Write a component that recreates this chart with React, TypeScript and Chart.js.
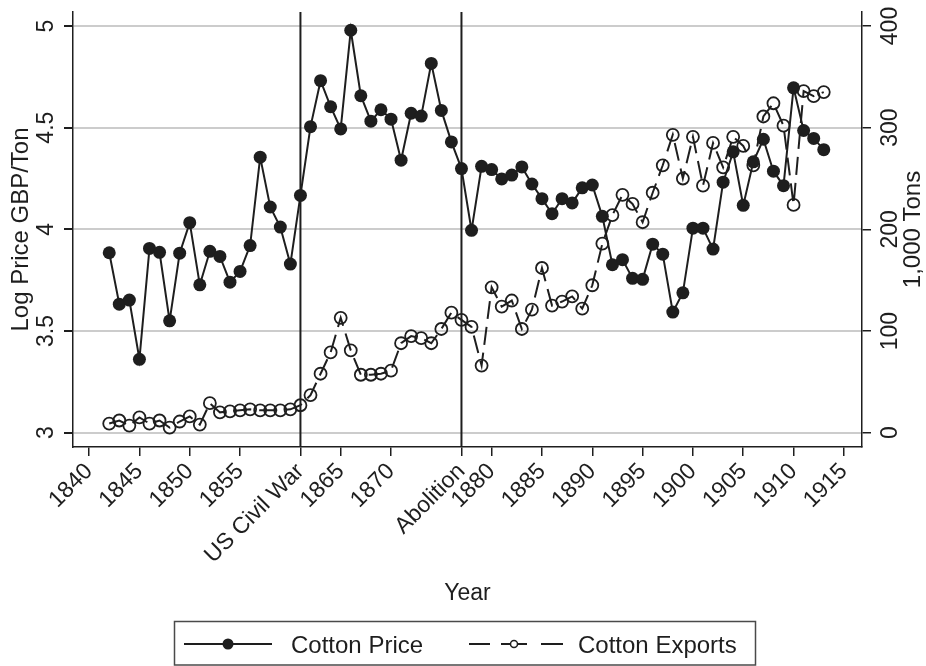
import React, { useEffect, useRef } from "react";
import { Chart, registerables } from "chart.js";

Chart.register(...registerables);

const years = [
  1842, 1843, 1844, 1845, 1846, 1847, 1848, 1849, 1850, 1851, 1852, 1853,
  1854, 1855, 1856, 1857, 1858, 1859, 1860, 1861, 1862, 1863, 1864, 1865,
  1866, 1867, 1868, 1869, 1870, 1871, 1872, 1873, 1874, 1875, 1876, 1877,
  1878, 1879, 1880, 1881, 1882, 1883, 1884, 1885, 1886, 1887, 1888, 1889,
  1890, 1891, 1892, 1893, 1894, 1895, 1896, 1897, 1898, 1899, 1900, 1901,
  1902, 1903, 1904, 1905, 1906, 1907, 1908, 1909, 1910, 1911, 1912, 1913,
];

const cottonPrice = [
  3.885, 3.632, 3.652, 3.361, 3.906, 3.887, 3.55, 3.883, 4.033, 3.727, 3.892, 3.867,
  3.74, 3.793, 3.92, 4.355, 4.11, 4.011, 3.829, 4.167, 4.505, 4.731, 4.603, 4.494,
  4.979, 4.657, 4.532, 4.588, 4.542, 4.34, 4.571, 4.557, 4.816, 4.585, 4.43, 4.299,
  3.995, 4.31, 4.294, 4.248, 4.267, 4.307, 4.223, 4.151, 4.077, 4.151, 4.13, 4.204,
  4.218, 4.064, 3.826, 3.851, 3.759, 3.754, 3.927, 3.878, 3.593, 3.688, 4.006, 4.006,
  3.903, 4.232, 4.381, 4.118, 4.332, 4.443, 4.286, 4.215, 4.696, 4.486, 4.447, 4.392,
];

const cottonExports = [
  9, 12, 7, 15, 9, 12, 5, 11, 16, 8, 29, 20,
  21, 22, 23, 22, 22, 22, 23, 27, 37, 58, 79, 113,
  81, 57, 57, 58, 61, 88, 95, 93, 88, 102, 118, 111,
  104, 66, 143, 124, 130, 102, 121, 162, 125, 129, 134, 122,
  145, 186, 214, 234, 225, 207, 236, 263, 293, 250, 291, 243,
  285, 261, 291, 282, 263, 311, 324, 302, 224, 336, 331, 335,
];

const xTickValues = [
  1840, 1845, 1850, 1855, 1861, 1865, 1870, 1877, 1880, 1885, 1890, 1895,
  1900, 1905, 1910, 1915,
];
const xTickNames: Record<number, string> = { 1861: "US Civil War", 1877: "Abolition" };
const eventYears = [1861, 1877];
const priceTicks = [3, 3.5, 4, 4.5, 5];
const exportTicks = [0, 100, 200, 300, 400];
const seriesLabels = ["Cotton Price", "Cotton Exports"];
const xTitle = "Year";
const yTitle = "Log Price GBP/Ton";
const y1Title = "1,000 Tons";

const FONT = '"Liberation Sans", Arial, Helvetica, sans-serif';
const INK = "#1e1e1e";
const DASH = [18, 8];

const overlayPlugin = {
  id: "overlay",
  beforeDatasetsDraw(chart: any) {
    const { ctx, chartArea, scales } = chart;
    ctx.save();
    ctx.strokeStyle = INK;
    ctx.lineWidth = 2;
    eventYears.forEach((yr) => {
      const x = scales.x.getPixelForValue(yr);
      ctx.beginPath();
      ctx.moveTo(x, chartArea.top);
      ctx.lineTo(x, chartArea.bottom);
      ctx.stroke();
    });
    ctx.restore();
  },
  afterDraw(chart: any) {
    const { ctx, chartArea, scales } = chart;
    ctx.save();
    ctx.fillStyle = INK;
    ctx.strokeStyle = INK;
    ctx.textAlign = "center";
    ctx.textBaseline = "alphabetic";
    const rot = (text: string, x: number, y: number) => {
      ctx.save();
      ctx.translate(x, y);
      ctx.rotate(-Math.PI / 2);
      ctx.fillText(text, 0, 0);
      ctx.restore();
    };
    ctx.font = `23px ${FONT}`;
    priceTicks.forEach((v) => rot(String(v), 53, scales.y.getPixelForValue(v)));
    exportTicks.forEach((v) => rot(String(v), 897, scales.y1.getPixelForValue(v)));
    ctx.font = `24px ${FONT}`;
    const midY = (chartArea.top + chartArea.bottom) / 2;
    rot(yTitle, 27.5, midY);
    rot(y1Title, 920, midY);

    // legend
    ctx.lineWidth = 1.5;
    ctx.strokeStyle = "#4a4a4a";
    ctx.strokeRect(174.5, 621.5, 581, 43.5);
    const ly = 644;
    ctx.strokeStyle = INK;
    ctx.lineWidth = 2;
    ctx.beginPath();
    ctx.moveTo(184, ly);
    ctx.lineTo(272, ly);
    ctx.stroke();
    ctx.beginPath();
    ctx.arc(228, ly, 5.5, 0, Math.PI * 2);
    ctx.fill();
    [[469, 490], [501, 527], [541, 563]].forEach(([a, b]) => {
      ctx.beginPath();
      ctx.moveTo(a, ly);
      ctx.lineTo(b, ly);
      ctx.stroke();
    });
    ctx.lineWidth = 1.5;
    ctx.beginPath();
    ctx.arc(514, ly, 3.5, 0, Math.PI * 2);
    ctx.fillStyle = "#ffffff";
    ctx.fill();
    ctx.stroke();
    ctx.fillStyle = INK;
    ctx.textAlign = "left";
    ctx.font = `24px ${FONT}`;
    ctx.fillText(seriesLabels[0], 291, 652.5);
    ctx.fillText(seriesLabels[1], 578, 652.5);
    ctx.restore();
  },
};

export default function App() {
  const ref = useRef<HTMLCanvasElement>(null);
  useEffect(() => {
    if (!ref.current) return;
    const chart = new Chart(ref.current, {
      type: "line",
      data: {
        datasets: [
          {
            label: seriesLabels[0],
            data: years.map((x, i) => ({ x, y: cottonPrice[i] })),
            yAxisID: "y",
            borderColor: INK,
            borderWidth: 2,
            pointRadius: 6.5,
            pointBackgroundColor: INK,
            pointBorderColor: INK,
            pointBorderWidth: 0,
            tension: 0,
            order: 1,
          },
          {
            label: seriesLabels[1],
            data: years.map((x, i) => ({ x, y: cottonExports[i] })),
            yAxisID: "y1",
            borderColor: INK,
            borderWidth: 2,
            borderDash: DASH,
            pointRadius: 6,
            pointBackgroundColor: "rgba(0,0,0,0)",
            pointBorderColor: INK,
            pointBorderWidth: 1.8,
            tension: 0,
            order: 0,
          },
        ],
      },
      options: {
        animation: false,
        responsive: true,
        maintainAspectRatio: false,
        layout: { padding: { top: 12, bottom: 55, left: 0, right: 0 } },
        plugins: { legend: { display: false }, tooltip: { enabled: false } },
        scales: {
          x: {
            type: "linear",
            position: "bottom",
            min: 1838.4,
            max: 1916.8,
            afterBuildTicks: (s: any) => {
              s.ticks = xTickValues.map((v) => ({ value: v }));
            },
            afterFit: (s: any) => {
              s.height = 164;
            },
            ticks: {
              autoSkip: false,
              minRotation: 45,
              maxRotation: 45,
              color: INK,
              padding: 2,
              font: { size: 23, family: FONT },
              callback: (v: any) => xTickNames[v] ?? String(v),
            },
            grid: { drawOnChartArea: false, drawTicks: true, tickLength: 9, color: INK, lineWidth: 1.5 },
            border: { display: true, color: INK, width: 1.5 },
            title: {
              display: true,
              text: xTitle,
              color: INK,
              font: { size: 23, family: FONT },
              padding: { top: 0, bottom: 4 },
            },
          },
          y: {
            type: "linear",
            position: "left",
            min: 2.9297,
            max: 5.0688,
            afterBuildTicks: (s: any) => {
              s.ticks = priceTicks.map((v) => ({ value: v }));
            },
            afterFit: (s: any) => {
              s.width = 73;
            },
            ticks: { display: false },
            grid: { color: "#cccccc", lineWidth: 2, tickColor: INK, tickLength: 9, drawTicks: true },
            border: { display: true, color: INK, width: 1.5 },
          },
          y1: {
            type: "linear",
            position: "right",
            min: -14.06,
            max: 413.76,
            afterBuildTicks: (s: any) => {
              s.ticks = exportTicks.map((v) => ({ value: v }));
            },
            afterFit: (s: any) => {
              s.width = 64;
            },
            ticks: { display: false },
            grid: { drawOnChartArea: false, color: INK, lineWidth: 1.5, tickLength: 9, drawTicks: true },
            border: { display: true, color: INK, width: 1.5 },
          },
        },
      },
      plugins: [overlayPlugin],
    });
    return () => chart.destroy();
  }, []);
  return (
    <div style={{ position: "fixed", left: 0, top: 0, width: 926, height: 666, background: "#fff" }}>
      <canvas ref={ref} />
    </div>
  );
}
